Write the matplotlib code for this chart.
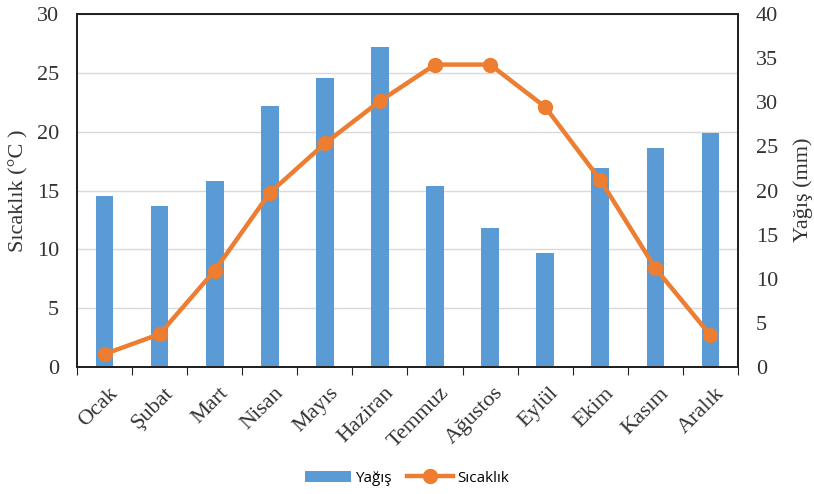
import matplotlib.pyplot as plt
import matplotlib.transforms as mtransforms
import numpy as np

months = ["Ocak", "Şubat", "Mart", "Nisan", "Mayıs", "Haziran", "Temmuz",
          "Ağustos", "Eylül", "Ekim", "Kasım", "Aralık"]
yagis = [19.4, 18.3, 21.1, 29.6, 32.8, 36.3, 20.5, 15.7, 12.9, 22.5, 24.8, 26.5]
sicaklik = [1.1, 2.8, 8.2, 14.8, 19.0, 22.6, 25.7, 25.7, 22.1, 15.9, 8.4, 2.7]

serif = "Liberation Serif"
x = np.arange(len(months))

fig = plt.figure(figsize=(8.14, 4.94), dpi=100)
ax1 = fig.add_subplot(111)
fig.subplots_adjust(left=0.0946, right=0.9066, top=0.9717, bottom=0.257)

# left axis: grid + temperature scale
ax1.set_ylim(0, 30)
ax1.set_yticks(range(0, 31, 5))
ax1.set_xlim(-0.5, 11.5)
ax1.grid(axis="y", color="#d9d9d9", linewidth=1)
ax1.set_axisbelow(True)
ax1.set_ylabel("Sıcaklık (°C )", fontsize=16, family=serif, color="#333333",
               labelpad=6)
ax1.tick_params(axis="y", length=0, labelsize=16, labelcolor="#333333", pad=13)
for t in ax1.get_yticklabels():
    t.set_family(serif)

# right axis: precipitation bars
ax2 = ax1.twinx()
bars = ax2.bar(x, yagis, width=0.32, color="#5b9bd5", label="Yağış")
ax2.set_ylim(0, 40)
ax2.set_yticks(range(0, 41, 5))
ax2.tick_params(axis="y", length=0, labelsize=16, labelcolor="#333333", pad=13)
for t in ax2.get_yticklabels():
    t.set_family(serif)
fig.text(0.987, 0.615, "Yağış (mm)", rotation=90, ha="center", va="center",
         fontsize=16, family=serif, color="#333333")

# third layer: temperature line on top of bars
ax3 = ax1.twinx()
ax3.set_ylim(0, 30)
ax3.yaxis.set_visible(False)
line, = ax3.plot(x, sicaklik, color="#ed7d31", linewidth=3.2, marker="o",
                 markersize=10, label="Sıcaklık")

for a in (ax1, ax2, ax3):
    for s in a.spines.values():
        s.set_color("#222222")
        s.set_linewidth(1.3)

# x ticks at category boundaries, labels at centers
ax1.set_xticks(np.arange(-0.5, 12, 1))
ax1.set_xticklabels([])
ax1.set_xticks(x, minor=True)
ax1.set_xticklabels(months, minor=True, rotation=45, ha="right",
                    rotation_mode="anchor", fontsize=16, family=serif,
                    color="#333333")
ax1.tick_params(axis="x", which="major", length=6, direction="out", color="#222222")
ax1.tick_params(axis="x", which="minor", length=0, pad=12)
shift = mtransforms.ScaledTranslation(4 / 100, 0, fig.dpi_scale_trans)
for t in ax1.get_xticklabels(minor=True):
    t.set_transform(t.get_transform() + shift)

fig.legend(handles=[bars, line], labels=["Yağış", "Sıcaklık"], loc="center",
           bbox_to_anchor=(0.5, 0.032), ncol=2, frameon=False,
           prop={"family": "Open Sans", "size": 11}, handlelength=3,
           columnspacing=1.0, handletextpad=0.3)

fig.savefig("out.png", dpi=100)
